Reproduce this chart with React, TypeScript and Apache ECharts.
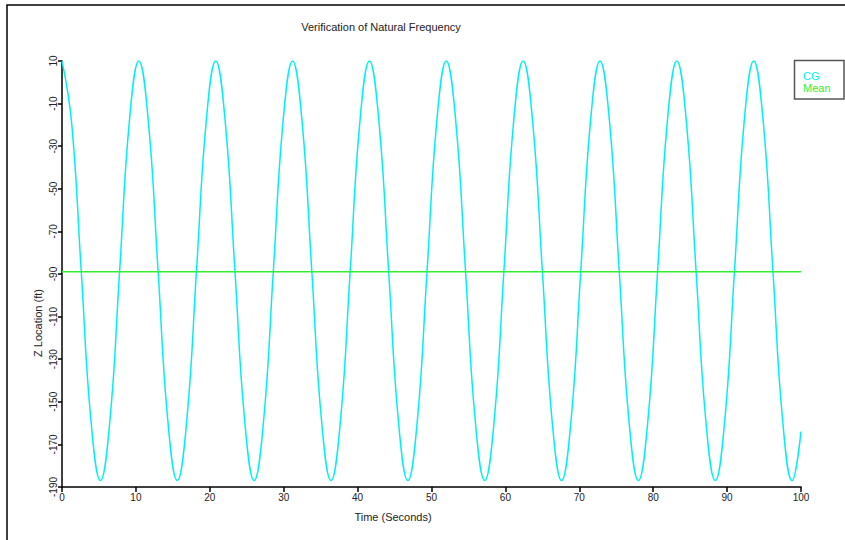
import React, { useEffect, useRef } from "react";
import * as echarts from "echarts";

const timeSeconds: number[] = [
  0, 1.3, 2.6, 3.9, 5.2, 6.5, 7.8, 9.1,
  10.4, 11.7, 13, 14.3, 15.6, 16.9, 18.2, 19.5,
  20.8, 22.1, 23.4, 24.7, 26, 27.3, 28.6, 29.9,
  31.2, 32.5, 33.8, 35.1, 36.4, 37.7, 39, 40.3,
  41.6, 42.9, 44.2, 45.5, 46.8, 48.1, 49.4, 50.7,
  52, 53.3, 54.6, 55.9, 57.2, 58.5, 59.8, 61.1,
  62.4, 63.7, 65, 66.3, 67.6, 68.9, 70.2, 71.5,
  72.8, 74.1, 75.4, 76.7, 78, 79.3, 80.6, 81.9,
  83.2, 84.5, 85.8, 87.1, 88.4, 89.7, 91, 92.3,
  93.6, 94.9, 96.2, 97.5, 98.8, 100,
];

const cgLocation: number[] = [
  10, -18.9, -88.5, -158.1, -187, -158.1, -88.5, -18.9,
  10, -18.9, -88.5, -158.1, -187, -158.1, -88.5, -18.9,
  10, -18.9, -88.5, -158.1, -187, -158.1, -88.5, -18.9,
  10, -18.9, -88.5, -158.1, -187, -158.1, -88.5, -18.9,
  10, -18.9, -88.5, -158.1, -187, -158.1, -88.5, -18.9,
  10, -18.9, -88.5, -158.1, -187, -158.1, -88.5, -18.9,
  10, -18.9, -88.5, -158.1, -187, -158.1, -88.5, -18.9,
  10, -18.9, -88.5, -158.1, -187, -158.1, -88.5, -18.9,
  10, -18.9, -88.5, -158.1, -187, -158.1, -88.5, -18.9,
  10, -18.9, -88.5, -158.1, -187, -164,
];

const meanTimes: number[] = [0, 100];
const meanLocation: number[] = [-89, -89];

const seriesNames: string[] = ["CG", "Mean"];
const titleText = "Verification of Natural Frequency";
const xAxisName = "Time (Seconds)";
const yAxisName = "Z Location (ft)";

const CYAN = "#00f0f0";
const GREEN = "#33ee33";
const FONT = "'Liberation Sans', Arial, sans-serif";

export default function App() {
  const ref = useRef<HTMLDivElement>(null);
  useEffect(() => {
    if (!ref.current) return;
    const chart = echarts.init(ref.current, undefined, { renderer: "svg" });
    chart.setOption({
      animation: false,
      backgroundColor: "#ffffff",
      textStyle: { fontFamily: FONT },
      grid: { left: 62, right: 44, top: 61, bottom: 53, containLabel: false },
      legend: {
        orient: "vertical",
        left: 798,
        top: 70,
        itemWidth: 0,
        itemHeight: 0,
        itemGap: 0,
        icon: "rect",
        padding: 0,
        selectedMode: false,
        textStyle: { fontSize: 11, fontFamily: FONT, lineHeight: 12 },
        data: [
          { name: seriesNames[0], textStyle: { color: CYAN } },
          { name: seriesNames[1], textStyle: { color: GREEN } },
        ],
      },
      xAxis: {
        type: "value",
        min: 0,
        max: 100,
        interval: 10,
        axisLine: { show: true, onZero: false, lineStyle: { color: "#000", width: 1.5 } },
        axisTick: { show: true, length: 5, lineStyle: { color: "#000", width: 1.5 } },
        axisLabel: { color: "#222", fontSize: 10, margin: 5, fontFamily: FONT },
        splitLine: { show: false },
      },
      yAxis: {
        type: "value",
        min: -190,
        max: 10,
        interval: 20,
        axisLine: { show: true, onZero: false, lineStyle: { color: "#000", width: 1.5 } },
        axisTick: { show: true, length: 4, lineStyle: { color: "#000", width: 1.5 } },
        axisLabel: { color: "#222", fontSize: 10, margin: 4, rotate: 90, fontFamily: FONT },
        splitLine: { show: false },
      },
      series: [
        {
          name: seriesNames[0],
          type: "line",
          data: timeSeconds.map((t, i) => [t, cgLocation[i]]),
          smooth: 0.45,
          showSymbol: false,
          lineStyle: { color: CYAN, width: 1.5 },
          itemStyle: { color: CYAN },
        },
        {
          name: seriesNames[1],
          type: "line",
          data: meanTimes.map((t, i) => [t, meanLocation[i]]),
          showSymbol: false,
          lineStyle: { color: GREEN, width: 1.5 },
          itemStyle: { color: GREEN },
        },
      ],
      graphic: [
        {
          type: "rect",
          shape: { x: 7, y: 5, width: 860, height: 560 },
          style: { fill: "none", stroke: "#000", lineWidth: 1.5 },
          silent: true,
        },
        {
          type: "rect",
          shape: { x: 794.5, y: 60.5, width: 49.5, height: 38.5 },
          style: { fill: "none", stroke: "#555", lineWidth: 1.5 },
          silent: true,
        },
        {
          type: "text",
          x: 381,
          y: 27,
          style: {
            text: titleText,
            fontSize: 11,
            fontFamily: FONT,
            fill: "#222",
            align: "center",
            verticalAlign: "middle",
          },
        },
        {
          type: "text",
          x: 393,
          y: 517,
          style: {
            text: xAxisName,
            fontSize: 11,
            fontFamily: FONT,
            fill: "#222",
            align: "center",
            verticalAlign: "middle",
          },
        },
        {
          type: "text",
          x: 38,
          y: 323,
          rotation: Math.PI / 2,
          style: {
            text: yAxisName,
            fontSize: 11,
            fontFamily: FONT,
            fill: "#222",
            align: "center",
            verticalAlign: "middle",
          },
        },
      ],
    });
    return () => chart.dispose();
  }, []);
  return (
    <div
      ref={ref}
      style={{ position: "fixed", left: 0, top: 0, width: 845, height: 540 }}
    />
  );
}
